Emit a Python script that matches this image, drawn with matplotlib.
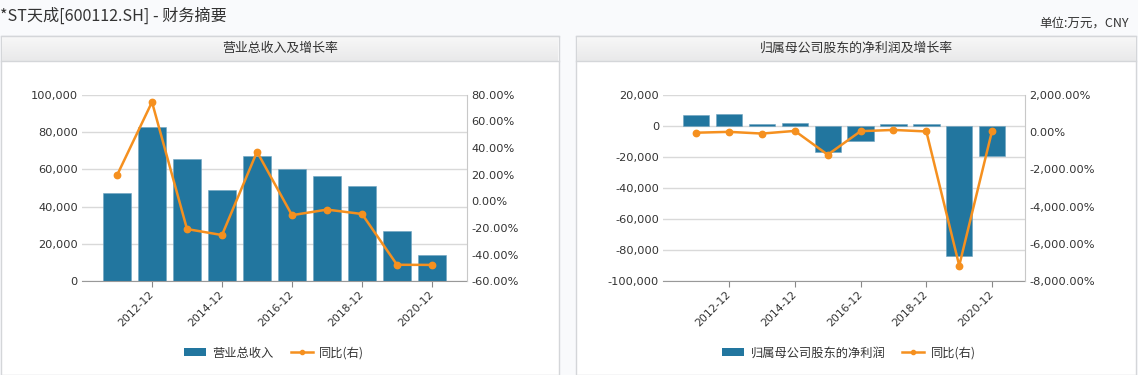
import matplotlib
matplotlib.use('Agg')
import matplotlib.pyplot as plt
import numpy as np
from matplotlib.lines import Line2D
from matplotlib.patches import Patch, Rectangle
from matplotlib.ticker import FuncFormatter

plt.rcParams['font.family'] = ['DejaVu Sans']
CJK = ['Noto Sans CJK SC', 'DejaVu Sans']

periods = ['2011-12', '2012-12', '2013-12', '2014-12', '2015-12',
           '2016-12', '2017-12', '2018-12', '2019-12', '2020-12']
revenue = [47300, 82650, 65500, 48900, 67100, 60150, 56400, 51050, 26950, 14100]
revenue_yoy = [19.5, 74.5, -20.8, -25.3, 37.2, -10.4, -6.2, -9.5, -47.6, -47.7]
net_profit = [7070, 7700, 1290, 1650, -17150, -9640, 1290, 1200, -84000, -19300]
net_profit_yoy = [-37, 9, -83, 60, -1216, 44, 113, 30, -7160, 77]

BAR = '#22769f'
LINE = '#f5901f'
TXT = '#333333'
W, H = 1138, 375


def fx(px):
    return px / W


def fy(py):
    return 1 - py / H


def panel(fig, x0, x1, title):
    fig.patches.append(Rectangle((fx(x0), 0), fx(x1 - x0), fy(36), transform=fig.transFigure,
                                 facecolor='white', edgecolor='#d4d6d9', lw=1, zorder=0))
    hax = fig.add_axes([fx(x0 + 1), fy(61), fx(x1 - x0 - 2), (61 - 37) / H], zorder=1)
    grad = np.linspace(0, 1, 50).reshape(-1, 1)
    hax.imshow(grad, aspect='auto', cmap=matplotlib.colors.LinearSegmentedColormap.from_list(
        'g', ['#f7f7f7', '#e9e9ea']), extent=(0, 1, 0, 1))
    hax.axis('off')
    fig.add_artist(Line2D([fx(x0), fx(x1)], [fy(61), fy(61)], color='#d4d6d9', lw=1))
    fig.add_artist(Line2D([fx(x0), fx(x1)], [fy(36), fy(36)], color='#d4d6d9', lw=1))
    fig.text(fx((x0 + x1) / 2), fy(48.5), title, ha='center', va='center',
             fontsize=9.3, color=TXT, family=CJK, weight='medium')


def chart(fig, rect, bars, yoy, ylim, yticks, ylim2, yticks2, bar_label, legend_x):
    ax = fig.add_axes(rect, zorder=2)
    x = np.arange(len(periods))
    ax.bar(x, bars, width=0.8, color=BAR, edgecolor='#6fa3c0', linewidth=0.4, zorder=2)
    ax.set_xlim(-1, len(periods))
    ax.set_ylim(*ylim)
    ax.set_yticks(yticks)
    ax.yaxis.set_major_formatter(FuncFormatter(lambda v, p: f'{v:,.0f}'))
    ax.grid(axis='y', color='#d9d9d9', lw=1, zorder=0)
    ax.set_axisbelow(True)
    ax.set_xticks(x[1::2])
    ax.set_xticklabels(periods[1::2], rotation=45, ha='right', va='center',
                       rotation_mode='anchor', fontsize=7.8, color=TXT)
    ax.tick_params(axis='x', length=4, color='#888888', pad=4)
    ax.tick_params(axis='y', length=0, pad=3, labelsize=8.2, labelcolor=TXT)
    for s in ('top', 'left', 'right'):
        ax.spines[s].set_visible(False)
    ax.spines['bottom'].set_color('#999999')

    ax2 = ax.twinx()
    ax2.plot(x, yoy, color=LINE, lw=1.8, marker='o', markersize=4.6, zorder=3)
    ax2.set_ylim(*ylim2)
    ax2.set_yticks(yticks2)
    ax2.yaxis.set_major_formatter(FuncFormatter(lambda v, p: f'{v:,.2f}%'))
    ax2.tick_params(axis='y', length=0, pad=3, labelsize=8.2, labelcolor=TXT)
    for s in ('top', 'left', 'bottom'):
        ax2.spines[s].set_visible(False)
    ax2.spines['right'].set_color('#c8c8c8')

    handles = [Patch(facecolor=BAR, edgecolor='none'),
               Line2D([], [], color=LINE, lw=1.8, marker='o', markersize=3)]
    fig.legend(handles, [bar_label, '同比(右)'], loc='center', ncol=2,
               bbox_to_anchor=(fx(legend_x), fy(353)), frameon=False,
               prop={'family': CJK, 'size': 8.8}, handlelength=1.8, handleheight=0.6,
               handletextpad=0.5, columnspacing=1.4, labelcolor=TXT)
    return ax, ax2


def main():
    fig = plt.figure(figsize=(W / 100, H / 100), dpi=100, facecolor='#f9fafc')

    fig.text(0, fy(16), '*ST天成[600112.SH] - 财务摘要', ha='left', va='center',
             fontsize=11.6, color=TXT, family=CJK)
    fig.text(fx(1129), fy(23), '单位:万元，CNY', ha='right', va='center',
             fontsize=9, color=TXT, family=CJK)

    panel(fig, 1, 559, '营业总收入及增长率')
    panel(fig, 576, 1136, '归属母公司股东的净利润及增长率')

    chart(fig, [fx(82), fy(281.3), fx(467 - 82), (281.3 - 94.7) / H],
          revenue, revenue_yoy, (0, 100000), np.arange(0, 100001, 20000),
          (-60, 80), np.arange(-60, 81, 20), '营业总收入', 274)
    chart(fig, [fx(663.3), fy(281.3), fx(1025 - 663.3), (281.3 - 94.7) / H],
          net_profit, net_profit_yoy, (-100000, 20000), np.arange(-100000, 20001, 20000),
          (-8000, 2000), np.arange(-8000, 2001, 2000), '归属母公司股东的净利润', 849)

    fig.savefig('out.png', dpi=100, facecolor=fig.get_facecolor())
    plt.close(fig)


if __name__ == '__main__':
    main()
